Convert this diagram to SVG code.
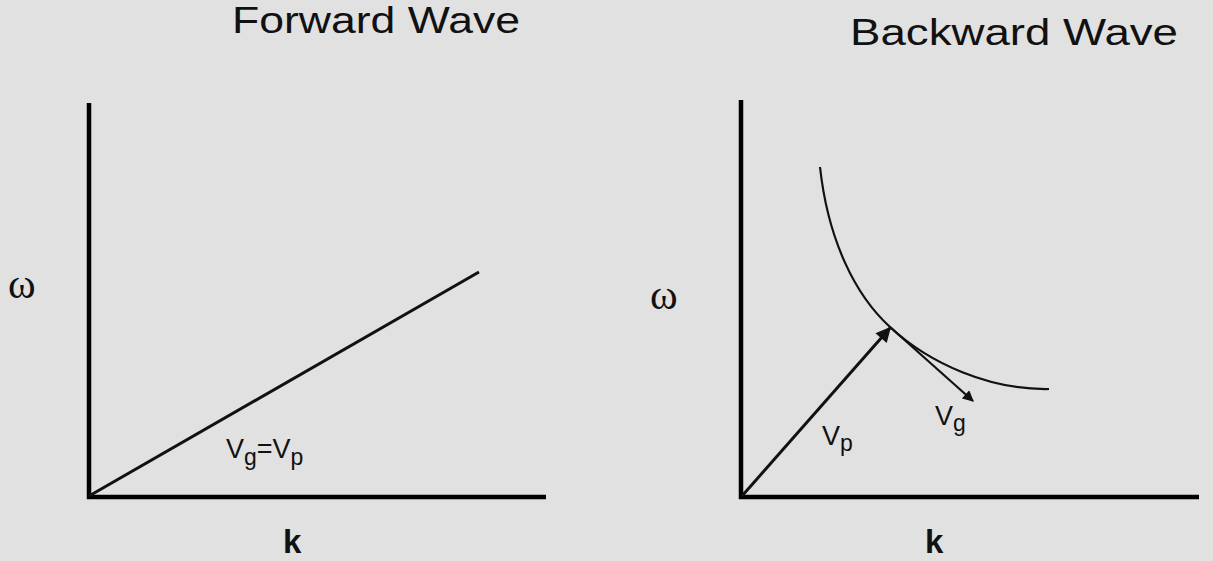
<svg xmlns="http://www.w3.org/2000/svg" width="1213" height="561" viewBox="0 0 1213 561">
<style>
.title{font-family:"Liberation Sans",Arial,sans-serif;font-size:37px;fill:#111}
.omega{font-family:"Liberation Serif","Times New Roman",serif;font-size:42px;fill:#111}
.k{font-family:"Liberation Sans",Arial,sans-serif;font-size:33px;font-weight:bold;fill:#111}
.lab{font-family:"Liberation Sans",Arial,sans-serif;font-size:27px;fill:#111}
.sub{font-size:23px}
.axis{stroke:#000;stroke-width:4.5;fill:none}
.line{stroke:#111;stroke-width:3;fill:none}
.thin{stroke:#111;stroke-width:2.2;fill:none}
</style>
<defs>
<marker id="arr" viewBox="0 0 10 10" refX="9" refY="5" markerWidth="6" markerHeight="5" orient="auto" markerUnits="strokeWidth">
<path d="M0,0 L10,5 L0,10 z" fill="#111"/>
</marker>
</defs>
<rect width="1213" height="561" fill="#e1e1e1"/>
<g id="forward">
<text class="title" x="232" y="33" textLength="288" lengthAdjust="spacingAndGlyphs">Forward Wave</text>
<text class="omega" x="8" y="298">ω</text>
<text class="k" x="283" y="553">k</text>
<path class="axis" d="M89,103 V497 H546"/>
<text class="lab" x="226" y="458">V<tspan class="sub" dy="7">g</tspan><tspan dy="-7">=V</tspan><tspan class="sub" dy="7">p</tspan></text>
</g>
<g id="backward">
<text class="title" x="850" y="45" textLength="328" lengthAdjust="spacingAndGlyphs">Backward Wave</text>
<text class="omega" x="650" y="309">ω</text>
<text class="k" x="925" y="553">k</text>
<path class="axis" d="M741,100 V497 H1199"/>
<path class="thin" d="M820,167 C828,240 855,295 890,327 C930,364 990,390 1049,389"/>
<text class="lab" x="822" y="445">V<tspan class="sub" dy="6">p</tspan></text>
<text class="lab" x="935" y="425">V<tspan class="sub" dy="6">g</tspan></text>
</g>
<g id="connectors">
<line class="line" x1="89" y1="496" x2="479" y2="272"/>
<line class="line" x1="742" y1="496" x2="890" y2="328" marker-end="url(#arr)"/>
<line class="thin" x1="890" y1="327" x2="973" y2="401" marker-end="url(#arr)"/>
</g>
</svg>
